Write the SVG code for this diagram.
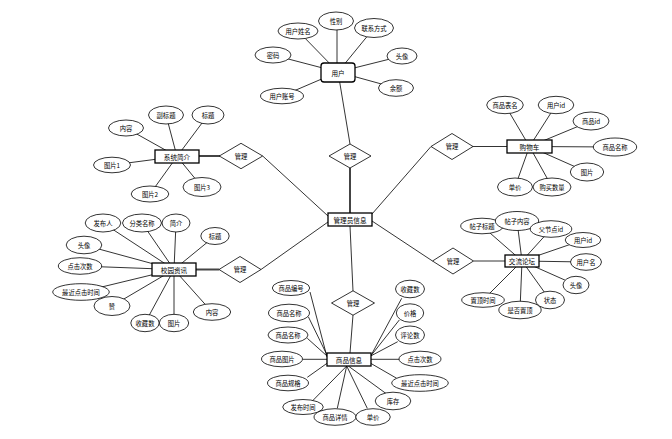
<svg xmlns="http://www.w3.org/2000/svg" width="672" height="439" viewBox="0 0 672 439">
<style>
.ln{stroke:#000;stroke-width:0.8;fill:none}
.thk{stroke:#444;stroke-width:2;fill:none}
ellipse{fill:#fff;stroke:#000;stroke-width:0.8}
rect{fill:#fff;stroke:#000;stroke-width:1.3}
polygon{fill:#fff;stroke:#000;stroke-width:0.8}
text{font-family:"Noto Sans CJK SC","Noto Sans",sans-serif;font-size:6.3px;text-anchor:middle;dominant-baseline:central;fill:#000}
.en{font-size:6.6px}
</style>
<rect x="0" y="0" width="672" height="439" style="fill:#fff;stroke:none"/>
<g id="connectors">
<!-- user -->
<line class="ln" x1="338" y1="72" x2="298" y2="31"/>
<line class="ln" x1="337" y1="72" x2="337" y2="21"/>
<line class="ln" x1="338" y1="72" x2="374" y2="28"/>
<line class="ln" x1="338" y1="72" x2="273" y2="55"/>
<line class="ln" x1="338" y1="72" x2="402" y2="56"/>
<line class="ln" x1="338" y1="72" x2="282" y2="96"/>
<line class="ln" x1="338" y1="72" x2="396" y2="88"/>
<line class="ln" x1="338" y1="72" x2="350" y2="144"/>
<line class="thk" x1="350" y1="168" x2="350" y2="213"/>
<!-- 系统简介 -->
<line class="ln" x1="177" y1="156.5" x2="126" y2="128"/>
<line class="ln" x1="177" y1="156.5" x2="166" y2="115"/>
<line class="ln" x1="177" y1="156.5" x2="208" y2="115"/>
<line class="ln" x1="177" y1="156.5" x2="112" y2="165"/>
<line class="ln" x1="177" y1="156.5" x2="150" y2="194"/>
<line class="ln" x1="177" y1="156.5" x2="202" y2="187"/>
<line class="thk" x1="199" y1="156" x2="220" y2="156"/>
<line class="ln" x1="262.7" y1="156" x2="328" y2="216"/>
<!-- 购物车 -->
<line class="ln" x1="529.5" y1="146.5" x2="505" y2="105"/>
<line class="ln" x1="529.5" y1="146.5" x2="556" y2="105"/>
<line class="ln" x1="529.5" y1="146.5" x2="591" y2="121"/>
<line class="ln" x1="529.5" y1="146.5" x2="615" y2="147"/>
<line class="ln" x1="529.5" y1="146.5" x2="587" y2="172"/>
<line class="ln" x1="529.5" y1="146.5" x2="515" y2="187"/>
<line class="ln" x1="529.5" y1="146.5" x2="552" y2="187"/>
<line class="ln" x1="473" y1="146.5" x2="507" y2="146.5"/>
<line class="ln" x1="431" y1="146.5" x2="372" y2="214"/>
<!-- 校园资讯 -->
<line class="ln" x1="174" y1="269.5" x2="103" y2="223"/>
<line class="ln" x1="174" y1="269.5" x2="142" y2="223"/>
<line class="ln" x1="174" y1="269.5" x2="176" y2="223"/>
<line class="ln" x1="174" y1="269.5" x2="215" y2="236"/>
<line class="ln" x1="174" y1="269.5" x2="84" y2="245"/>
<line class="ln" x1="174" y1="269.5" x2="80" y2="266"/>
<line class="ln" x1="174" y1="269.5" x2="81" y2="292"/>
<line class="ln" x1="174" y1="269.5" x2="112" y2="306"/>
<line class="ln" x1="174" y1="269.5" x2="145" y2="323"/>
<line class="ln" x1="174" y1="269.5" x2="174" y2="323"/>
<line class="ln" x1="174" y1="269.5" x2="212" y2="312"/>
<line class="thk" x1="196" y1="269.5" x2="219" y2="269.5"/>
<line class="ln" x1="261" y1="269.5" x2="328" y2="222"/>
<!-- 交流论坛 -->
<line class="ln" x1="522" y1="261" x2="482" y2="226"/>
<line class="ln" x1="522" y1="261" x2="517" y2="221"/>
<line class="ln" x1="522" y1="261" x2="551" y2="229"/>
<line class="ln" x1="522" y1="261" x2="583" y2="240"/>
<line class="ln" x1="522" y1="261" x2="586" y2="262"/>
<line class="ln" x1="522" y1="261" x2="576" y2="285"/>
<line class="ln" x1="522" y1="261" x2="550" y2="300"/>
<line class="ln" x1="522" y1="261" x2="520" y2="310"/>
<line class="ln" x1="522" y1="261" x2="483" y2="300"/>
<line class="ln" x1="473.5" y1="261" x2="505" y2="261"/>
<line class="ln" x1="432.5" y1="261" x2="372" y2="221"/>
<!-- 商品信息 -->
<line class="ln" x1="310" y1="292" x2="327" y2="357"/>
<line class="ln" x1="308.3" y1="316.7" x2="327" y2="355"/>
<line class="ln" x1="307.3" y1="338.3" x2="327" y2="356"/>
<line class="ln" x1="302.7" y1="359.3" x2="327" y2="359.3"/>
<line class="ln" x1="307.3" y1="377.3" x2="327" y2="363.3"/>
<line class="ln" x1="311.7" y1="401.7" x2="346.7" y2="366"/>
<line class="ln" x1="337.3" y1="408.3" x2="346.7" y2="366"/>
<line class="ln" x1="367.3" y1="408.3" x2="346.7" y2="366"/>
<line class="ln" x1="386.7" y1="394" x2="348.3" y2="366"/>
<line class="ln" x1="401.7" y1="298.3" x2="370.7" y2="356"/>
<line class="ln" x1="399.3" y1="320" x2="370.7" y2="356"/>
<line class="ln" x1="397.7" y1="341.7" x2="370.7" y2="356"/>
<line class="ln" x1="399.3" y1="359.3" x2="370.7" y2="359.3"/>
<line class="ln" x1="396.7" y1="378.3" x2="370.7" y2="363.3"/>
<line class="ln" x1="353" y1="315" x2="350" y2="353"/>
<line class="ln" x1="353" y1="291" x2="350" y2="226"/>
</g>

<g id="admin"><rect x="328" y="213" width="44" height="13"/><text class="en" x="350" y="219.5">管理员信息</text></g>

<g id="user">
<rect x="321" y="63" width="34" height="19" rx="3"/><text class="en" x="338" y="72.5">用户</text>
</g>
<g id="user-name"><ellipse cx="298" cy="31" rx="20" ry="8"/><text x="298" y="31">用户姓名</text></g>
<g id="user-gender"><ellipse cx="336" cy="21" rx="17.5" ry="9"/><text x="336" y="21">性别</text></g>
<g id="user-contact"><ellipse cx="374" cy="28" rx="19.5" ry="9.5"/><text x="374" y="28">联系方式</text></g>
<g id="user-pwd"><ellipse cx="273" cy="55" rx="18" ry="8"/><text x="273" y="55">密码</text></g>
<g id="user-avatar"><ellipse cx="402" cy="56" rx="15" ry="8"/><text x="402" y="56">头像</text></g>
<g id="user-account"><ellipse cx="282" cy="96" rx="21.5" ry="7.8"/><text x="282" y="96">用户账号</text></g>
<g id="user-balance"><ellipse cx="396" cy="88" rx="17.5" ry="8.3"/><text x="396" y="88">余额</text></g>
<g id="rel-user"><polygon points="350,144 371,156 350,168 329,156"/><text x="350" y="156">管理</text></g>

<g id="intro"><rect x="155" y="150" width="44" height="13"/><text class="en" x="177" y="156.5">系统简介</text></g>
<g id="intro-content"><ellipse cx="126" cy="128" rx="17.5" ry="8"/><text x="126" y="128">内容</text></g>
<g id="intro-subtitle"><ellipse cx="166" cy="115" rx="17.5" ry="9"/><text x="166" y="115">副标题</text></g>
<g id="intro-title"><ellipse cx="208" cy="115" rx="16" ry="9"/><text x="208" y="115">标题</text></g>
<g id="intro-pic1"><ellipse cx="112" cy="165" rx="18.5" ry="7.8"/><text x="112" y="165">图片1</text></g>
<g id="intro-pic2"><ellipse cx="150" cy="194" rx="18.8" ry="8"/><text x="150" y="194">图片2</text></g>
<g id="intro-pic3"><ellipse cx="202" cy="187" rx="19" ry="9.5"/><text x="202" y="187">图片3</text></g>
<g id="rel-intro"><polygon points="241,143.3 262.7,156 241,168.7 219.3,156"/><text x="241" y="156">管理</text></g>

<g id="cart"><rect x="507" y="140" width="45" height="13"/><text class="en" x="529.5" y="146.5">购物车</text></g>
<g id="cart-table"><ellipse cx="505" cy="105" rx="18.3" ry="8.7"/><text x="505" y="105">商品表名</text></g>
<g id="cart-userid"><ellipse cx="556" cy="105" rx="17.8" ry="8.7"/><text x="556" y="105">用户id</text></g>
<g id="cart-goodsid"><ellipse cx="591" cy="121" rx="18" ry="9"/><text x="591" y="121">商品id</text></g>
<g id="cart-goodsname"><ellipse cx="615" cy="147" rx="21.7" ry="9"/><text x="615" y="147">商品名称</text></g>
<g id="cart-pic"><ellipse cx="587" cy="172" rx="16.7" ry="9"/><text x="587" y="172">图片</text></g>
<g id="cart-price"><ellipse cx="515" cy="187" rx="17.5" ry="9"/><text x="515" y="187">单价</text></g>
<g id="cart-qty"><ellipse cx="552" cy="187" rx="19" ry="9"/><text x="552" y="187">购买数量</text></g>
<g id="rel-cart"><polygon points="452,133.5 473,146.5 452,159.5 431,146.5"/><text x="452" y="146.5">管理</text></g>

<g id="news"><rect x="152" y="263" width="44" height="13"/><text class="en" x="174" y="269.5">校园资讯</text></g>
<g id="news-publisher"><ellipse cx="103" cy="223" rx="17.8" ry="9"/><text x="103" y="223">发布人</text></g>
<g id="news-category"><ellipse cx="142" cy="223" rx="19.5" ry="9"/><text x="142" y="223">分类名称</text></g>
<g id="news-summary"><ellipse cx="176" cy="223" rx="14" ry="9"/><text x="176" y="223">简介</text></g>
<g id="news-title"><ellipse cx="215" cy="236" rx="14.2" ry="8.5"/><text x="215" y="236">标题</text></g>
<g id="news-avatar"><ellipse cx="84" cy="245" rx="17.8" ry="8.8"/><text x="84" y="245">头像</text></g>
<g id="news-clicks"><ellipse cx="80" cy="266" rx="21.7" ry="8.3"/><text x="80" y="266">点击次数</text></g>
<g id="news-lastclick"><ellipse cx="81" cy="292" rx="28.3" ry="8.3"/><text x="81" y="292">最近点击时间</text></g>
<g id="news-like"><ellipse cx="112" cy="306" rx="18" ry="9.5"/><text x="112" y="306">赞</text></g>
<g id="news-fav"><ellipse cx="145" cy="323" rx="14.2" ry="8.7"/><text x="145" y="323">收藏数</text></g>
<g id="news-pic"><ellipse cx="174" cy="323" rx="14.7" ry="8.7"/><text x="174" y="323">图片</text></g>
<g id="news-content"><ellipse cx="212" cy="312" rx="18.7" ry="8.3"/><text x="212" y="312">内容</text></g>
<g id="rel-news"><polygon points="240,256.5 261,269.5 240,282.5 219,269.5"/><text x="240" y="269.5">管理</text></g>

<g id="forum"><rect x="505" y="255" width="34" height="12"/><text class="en" x="522" y="261">交流论坛</text></g>
<g id="forum-title"><ellipse cx="482" cy="226" rx="21.3" ry="7.8"/><text x="482" y="226">帖子标题</text></g>
<g id="forum-content"><ellipse cx="517" cy="221" rx="21.7" ry="9.5"/><text x="517" y="221">帖子内容</text></g>
<g id="forum-parent"><ellipse cx="551" cy="229" rx="20.8" ry="8.3"/><text x="551" y="229">父节点id</text></g>
<g id="forum-userid"><ellipse cx="583" cy="240" rx="17.8" ry="7.5"/><text x="583" y="240">用户id</text></g>
<g id="forum-username"><ellipse cx="586" cy="262" rx="15.5" ry="8.3"/><text x="586" y="262">用户名</text></g>
<g id="forum-avatar"><ellipse cx="576" cy="285" rx="13" ry="8.7"/><text x="576" y="285">头像</text></g>
<g id="forum-status"><ellipse cx="550" cy="300" rx="14.5" ry="8.8"/><text x="550" y="300">状态</text></g>
<g id="forum-top"><ellipse cx="520" cy="310" rx="21.2" ry="8.8"/><text x="520" y="310">是否置顶</text></g>
<g id="forum-toptime"><ellipse cx="483" cy="300" rx="21.3" ry="7.3"/><text x="483" y="300">置顶时间</text></g>
<g id="rel-forum"><polygon points="453,248 473.5,261 453,274 432.5,261"/><text x="453" y="261">管理</text></g>

<g id="goods"><rect x="327" y="353" width="44" height="13"/><text class="en" x="349" y="359.5">商品信息</text></g>
<g id="goods-no"><ellipse cx="291" cy="288" rx="18.7" ry="7.5"/><text x="291" y="288">商品编号</text></g>
<g id="goods-name"><ellipse cx="289" cy="313" rx="20.5" ry="8.8"/><text x="289" y="313">商品名称</text></g>
<g id="goods-name2"><ellipse cx="288" cy="335" rx="20" ry="8"/><text x="288" y="335">商品名称</text></g>
<g id="goods-pic"><ellipse cx="282" cy="359" rx="20.5" ry="7.8"/><text x="282" y="359">商品图片</text></g>
<g id="goods-spec"><ellipse cx="288" cy="383" rx="20.5" ry="7.8"/><text x="288" y="383">商品规格</text></g>
<g id="goods-time"><ellipse cx="303" cy="407" rx="20.3" ry="7.5"/><text x="303" y="407">发布时间</text></g>
<g id="goods-detail"><ellipse cx="335" cy="417" rx="21" ry="8.3"/><text x="335" y="417">商品详情</text></g>
<g id="goods-unitprice"><ellipse cx="373" cy="417" rx="17.3" ry="8.3"/><text x="373" y="417">单价</text></g>
<g id="goods-stock"><ellipse cx="393" cy="401" rx="17.8" ry="8.8"/><text x="393" y="401">库存</text></g>
<g id="goods-lastclick"><ellipse cx="420" cy="383" rx="28.3" ry="8.3"/><text x="420" y="383">最近点击时间</text></g>
<g id="goods-clicks"><ellipse cx="420" cy="359" rx="21" ry="7.8"/><text x="420" y="359">点击次数</text></g>
<g id="goods-comments"><ellipse cx="410" cy="335" rx="14.5" ry="9"/><text x="410" y="335">评论数</text></g>
<g id="goods-price"><ellipse cx="410" cy="313" rx="13.7" ry="9.2"/><text x="410" y="313">价格</text></g>
<g id="goods-fav"><ellipse cx="410" cy="289" rx="14.5" ry="8.8"/><text x="410" y="289">收藏数</text></g>
<g id="rel-goods"><polygon points="353,290.8 374.5,303 353,315.2 331.5,303"/><text x="353" y="303">管理</text></g>
</svg>
